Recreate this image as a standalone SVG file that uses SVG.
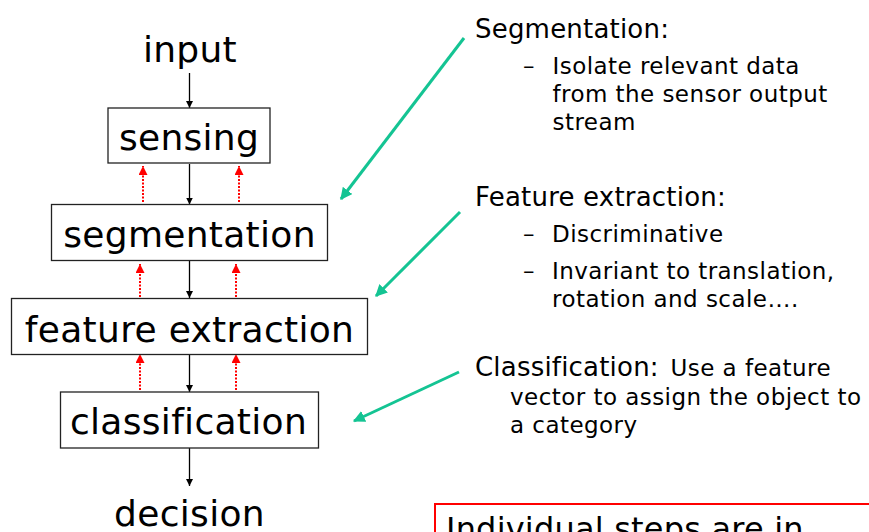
<svg xmlns="http://www.w3.org/2000/svg" width="869" height="532" viewBox="0 0 869 532">
  <style>
    text { font-family: "DejaVu Sans", Verdana, sans-serif; fill: #000; }
    .big { font-size: 36px; text-anchor: middle; letter-spacing: 0.3px; }
    .head { font-size: 26px; letter-spacing: 0.2px; }
    .body { font-size: 23px; letter-spacing: 0.45px; }
    .box { fill: #fff; stroke: #222; stroke-width: 1.3; }
    .flow { stroke: #000; stroke-width: 1.3; fill: none; marker-end: url(#blk); }
    .fb { stroke: #ff0000; stroke-width: 2; stroke-dasharray: 2 1.5; fill: none; marker-end: url(#red); }
    .note { stroke: #14c493; stroke-width: 3; fill: none; marker-end: url(#grn); }
  </style>
  <defs>
    <marker id="blk" viewBox="0 0 10 10" refX="10" refY="5" markerWidth="7" markerHeight="7" markerUnits="userSpaceOnUse" orient="auto">
      <path d="M0,0 L10,5 L0,10 z" fill="#000"/>
    </marker>
    <marker id="red" viewBox="0 0 10 10" refX="10" refY="5" markerWidth="9" markerHeight="9" markerUnits="userSpaceOnUse" orient="auto">
      <path d="M0,0 L10,5 L0,10 z" fill="#ff0000"/>
    </marker>
    <marker id="grn" viewBox="0 0 10 10" refX="9" refY="5" markerWidth="12" markerHeight="12" markerUnits="userSpaceOnUse" orient="auto">
      <path d="M0,0 L10,5 L0,10 z" fill="#14c493"/>
    </marker>
  </defs>

  <rect width="869" height="532" fill="#fff"/>

  <!-- connectors -->
  <g id="connectors">
    <line class="flow" x1="189.5" y1="73" x2="189.5" y2="108"/>
    <line class="flow" x1="189.5" y1="164" x2="189.5" y2="204.5"/>
    <line class="flow" x1="189.5" y1="261" x2="189.5" y2="298"/>
    <line class="flow" x1="189.5" y1="355" x2="189.5" y2="392"/>
    <line class="flow" x1="189.5" y1="448" x2="189.5" y2="486"/>

    <line class="fb" x1="143" y1="202" x2="143" y2="166"/>
    <line class="fb" x1="239" y1="202" x2="239" y2="166"/>
    <line class="fb" x1="140" y1="297" x2="140" y2="264"/>
    <line class="fb" x1="236" y1="297" x2="236" y2="264"/>
    <line class="fb" x1="140" y1="390" x2="140" y2="354"/>
    <line class="fb" x1="236" y1="390" x2="236" y2="354"/>

    <line class="note" x1="464" y1="38" x2="341" y2="199"/>
    <line class="note" x1="460" y1="212" x2="376" y2="296"/>
    <line class="note" x1="459" y1="372" x2="354" y2="421"/>
  </g>

  <!-- pipeline stages -->
  <g id="input"><text class="big" x="190" y="62">input</text></g>
  <g id="sensing">
    <rect class="box" x="108" y="108" width="162" height="55"/>
    <text class="big" x="189" y="150">sensing</text>
  </g>
  <g id="segmentation">
    <rect class="box" x="51.5" y="204.5" width="276" height="56"/>
    <text class="big" x="189.5" y="247">segmentation</text>
  </g>
  <g id="feature-extraction">
    <rect class="box" x="11.5" y="298.5" width="356" height="56"/>
    <text class="big" x="189.5" y="342">feature extraction</text>
  </g>
  <g id="classification">
    <rect class="box" x="60.5" y="392" width="258" height="56"/>
    <text class="big" x="188.5" y="434">classification</text>
  </g>
  <g id="decision"><text class="big" x="189.5" y="526">decision</text></g>

  <!-- stage descriptions -->
  <g id="desc-segmentation">
    <text class="head" x="475" y="37.5">Segmentation:</text>
    <text class="body" x="523" y="73.5">–</text>
    <text class="body" x="552.5" y="73.5">Isolate relevant data</text>
    <text class="body" x="552.5" y="101.5">from the sensor output</text>
    <text class="body" x="552.5" y="129.5">stream</text>
  </g>
  <g id="desc-feature">
    <text class="head" x="475" y="205.5">Feature extraction:</text>
    <text class="body" x="523" y="242">–</text>
    <text class="body" x="552" y="242">Discriminative</text>
    <text class="body" x="523" y="278.5">–</text>
    <text class="body" x="552" y="278.5">Invariant to translation,</text>
    <text class="body" x="552" y="306.5">rotation and scale….</text>
  </g>
  <g id="desc-classification">
    <text x="475" y="375.5"><tspan class="head">Classification:</tspan><tspan class="body" x="670.5">Use a feature</tspan></text>
    <text class="body" x="510" y="404.5">vector to assign the object to</text>
    <text class="body" x="510" y="432.5">a category</text>
  </g>

  <!-- callout -->
  <g id="callout">
    <rect x="435" y="504" width="460" height="60" fill="#fff" stroke="#ff0000" stroke-width="2"/>
    <text x="446" y="540" font-size="32" letter-spacing="0.2">Individual steps are in</text>
  </g>
</svg>
